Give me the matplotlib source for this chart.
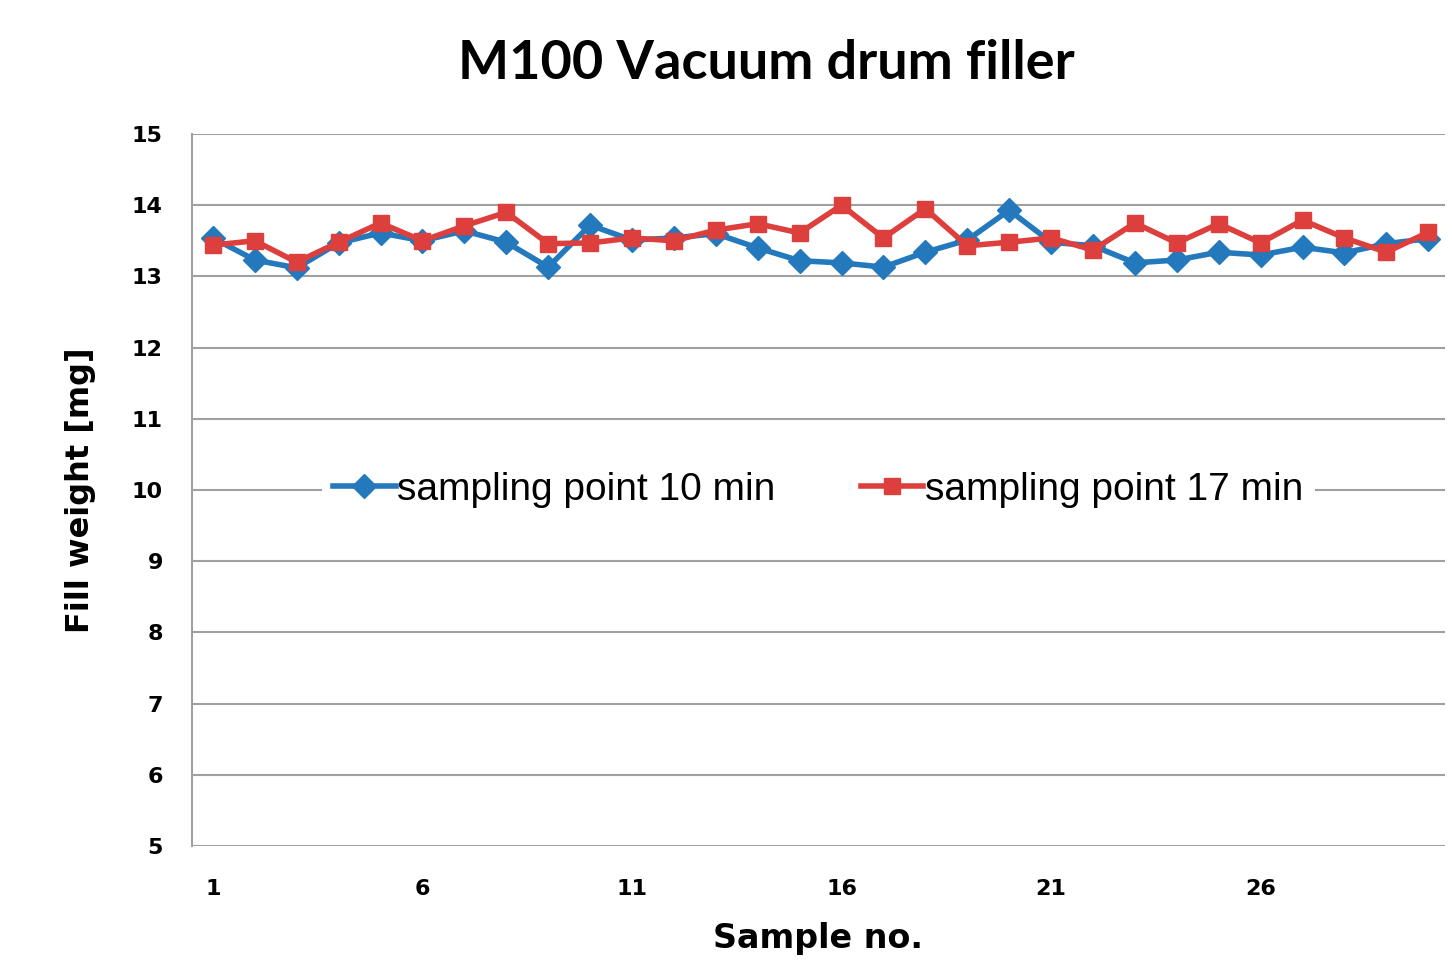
import matplotlib.pyplot as plt
import numpy as np

samples = list(range(1, 31))
fill_10min = [13.54, 13.23, 13.12, 13.47, 13.61, 13.50, 13.64, 13.48, 13.13, 13.72,
              13.51, 13.54, 13.60, 13.40, 13.22, 13.19, 13.13, 13.34, 13.51, 13.93,
              13.48, 13.43, 13.19, 13.23, 13.34, 13.30, 13.41, 13.33, 13.46, 13.53]
fill_17min = [13.44, 13.50, 13.20, 13.48, 13.75, 13.50, 13.71, 13.90, 13.46, 13.47,
              13.54, 13.50, 13.65, 13.74, 13.61, 14.00, 13.54, 13.95, 13.43, 13.48,
              13.54, 13.37, 13.75, 13.47, 13.74, 13.47, 13.79, 13.54, 13.34, 13.62]
xticks = [1, 6, 11, 16, 21, 26]
yticks = list(range(5, 16))

fig = plt.figure(figsize=(14.52, 9.64), dpi=100)
ax = fig.add_axes([0.1322, 0.1224, 0.863, 0.7386])

ax.plot(samples, fill_10min, color='#2479bd', lw=4, marker='D', ms=12,
        label='sampling point 10 min', zorder=3)
ax.plot(samples, fill_17min, color='#dd3f3d', lw=4, marker='s', ms=12,
        label='sampling point 17 min', zorder=4)

ax.set_xlim(0.5, 30.4)
ax.set_ylim(5, 15)
ax.set_xticks(xticks)
ax.set_yticks(yticks)
ax.grid(axis='y', color='#a0a0a0', lw=1.5)
ax.set_axisbelow(True)
for s in ['top', 'right', 'bottom']:
    ax.spines[s].set_visible(False)
ax.spines['left'].set_color('#a0a0a0')
ax.spines['left'].set_linewidth(1.5)
ax.tick_params(length=0, labelsize=16)
ax.tick_params(axis='y', pad=21)
ax.tick_params(axis='x', pad=24)
for lab in ax.get_xticklabels() + ax.get_yticklabels():
    lab.set_fontweight('bold')
    lab.set_family('DejaVu Sans')

ax.set_xlabel('Sample no.', fontsize=24, fontweight='bold', labelpad=16)
ax.set_ylabel('Fill weight [mg]', fontsize=23, fontweight='bold', labelpad=26)
fig.suptitle('M100 Vacuum drum filler', x=0.528, y=0.96, fontsize=39,
             fontweight='bold', family='Lato')

leg = ax.legend(loc='center', bbox_to_anchor=(0.5, 0.5), ncol=2, frameon=True,
                handlelength=1.6, handletextpad=0.05, columnspacing=2.2,
                borderpad=0.3, prop={'family': 'Liberation Sans', 'size': 28})
leg.get_frame().set_edgecolor('none')
leg.get_frame().set_facecolor('white')
leg.get_frame().set_alpha(1)

fig.savefig('out.png', dpi=100)
